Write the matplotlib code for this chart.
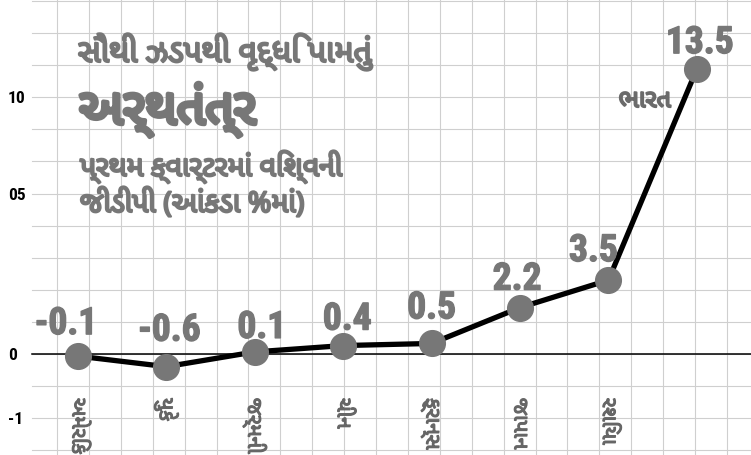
import numpy as np
import matplotlib
matplotlib.use('Agg')
import matplotlib.pyplot as plt
from matplotlib import font_manager
import matplotlib.patheffects as pe

# data
countries = ['અમેરિકા', 'યુકે', 'જર્મની', 'ચીન', 'ફ્રાન્સ', 'જાપાન', 'રશિયા', 'ભારત']
growth = [-0.1, -0.6, 0.1, 0.4, 0.5, 2.2, 3.5, 13.5]
value_labels = ['-0.1', '-0.6', '0.1', '0.4', '0.5', '2.2', '3.5', '13.5']
ytick_labels = ['10', '05', '0', '-1']

title_top = 'સૌથી ઝડપથી વૃદ્ધિ પામતું'
title_big = 'અર્થતંત્ર'
subtitle_1 = 'પ્રથમ ક્વાર્ટરમાં વિશ્વની'
subtitle_2 = 'જીડીપી (આંકડા %માં)'

W, H = 751, 455
PT = 72 / 100  # px -> pt


def pick(names, fallback):
    have = {f.name for f in font_manager.fontManager.ttflist}
    for n in names:
        if n in have:
            return n
    return fallback


guj = pick(['Noto Sans Gujarati', 'Noto Sans Gujarati UI', 'Lohit Gujarati',
            'Hind Vadodara', 'Mukta Vaani', 'Shruti', 'Rasa'], 'DejaVu Sans')
narrow = pick(['Liberation Sans Narrow', 'Roboto Condensed', 'DejaVu Sans'], 'DejaVu Sans')
guj_fam = [guj, 'DejaVu Sans']

gray = '#777777'


def heavy(w, c):
    # fake a heavier weight with an outline of the same colour
    return [pe.withStroke(linewidth=w, foreground=c)]


fig = plt.figure(figsize=(W / 100, H / 100), dpi=100)
fig.patch.set_facecolor('white')

# background grid in pixel space
bg = fig.add_axes([0, 0, 1, 1])
bg.set_xlim(0, W)
bg.set_ylim(H, 0)
bg.axis('off')
for gx in np.arange(57, W, 31.9):
    bg.plot([gx, gx], [0, H], color='#cfcfcf', lw=0.8, zorder=0)
for gy in 354 - 32.1 * np.arange(-3, 12):
    bg.plot([32, W], [gy, gy], color='#cfcfcf', lw=0.8, zorder=0)

# main chart
ax = fig.add_axes([32 / W, 0, 1 - 32 / W, 1])
ax.patch.set_alpha(0)
x = np.arange(len(countries))
unit = 21.1  # px per percent
ax.set_xlim((32 - 78) / 88.4, (W - 78) / 88.4)
ax.set_ylim(-(H - 354) / unit, 354 / unit)

ax.plot(x, growth, color='black', lw=3.8, zorder=3, solid_capstyle='round')
ax.plot(x, growth, 'o', color=gray, ms=18.5, zorder=4)

for s in ['top', 'right', 'left']:
    ax.spines[s].set_visible(False)
ax.spines['bottom'].set_position(('data', 0))
ax.spines['bottom'].set_linewidth(1.1)
ax.spines['bottom'].set_color('black')

ax.set_xticks(x[:-1])
ax.set_xticklabels(countries[:-1], rotation=-90, family=guj_fam,
                   fontsize=15, fontweight='bold', color='#666666', va='top')
for t in ax.get_xticklabels():
    t.set_path_effects(heavy(0.9, '#666666'))
ax.tick_params(axis='x', length=0, pad=44 * PT)

grid_step = 32.1 / unit
ax.set_yticks(grid_step * np.array([8, 5, 0, -2]))
ax.set_yticklabels(ytick_labels, family=narrow, fontweight='bold',
                   fontsize=12.5, color='black', ha='left')
ax.tick_params(axis='y', length=0, pad=24 * PT)

# value labels
offsets = [(-12, 22), (3, 26), (7, 14), (4, 16), (0, 25), (-3, 18), (-15, 19), (3, 16)]
for xi, v, lab, (dx, dy) in zip(x, growth, value_labels, offsets):
    ax.annotate(lab, (xi, v), xytext=(dx * PT, dy * PT), textcoords='offset points',
                ha='center', va='baseline', family=narrow, fontweight='bold',
                fontsize=27, color=gray, zorder=5, path_effects=heavy(1.0, gray))

ax.annotate(countries[-1], (x[-1], growth[-1]), xytext=(-52 * PT, -38 * PT),
            textcoords='offset points', ha='center', va='baseline',
            family=guj_fam, fontweight='bold', fontsize=18, color='#6a6a6a',
            path_effects=heavy(1.4, '#6a6a6a'))


def px(xp, yp):
    return xp / W, 1 - yp / H


fig.text(*px(78, 62), title_top, family=guj_fam, fontweight='bold',
         fontsize=23, color=gray, va='baseline', path_effects=heavy(1.6, gray))
fig.text(*px(79, 124), title_big, family=guj_fam, fontweight='bold',
         fontsize=36, color=gray, va='baseline', path_effects=heavy(3.2, gray))
fig.text(*px(80, 176), subtitle_1, family=guj_fam, fontweight='bold',
         fontsize=20.5, color=gray, va='baseline', path_effects=heavy(1.6, gray))
fig.text(*px(80, 212), subtitle_2, family=guj_fam, fontweight='bold',
         fontsize=20.5, color=gray, va='baseline', path_effects=heavy(1.6, gray))

fig.savefig('out.png', dpi=100)
